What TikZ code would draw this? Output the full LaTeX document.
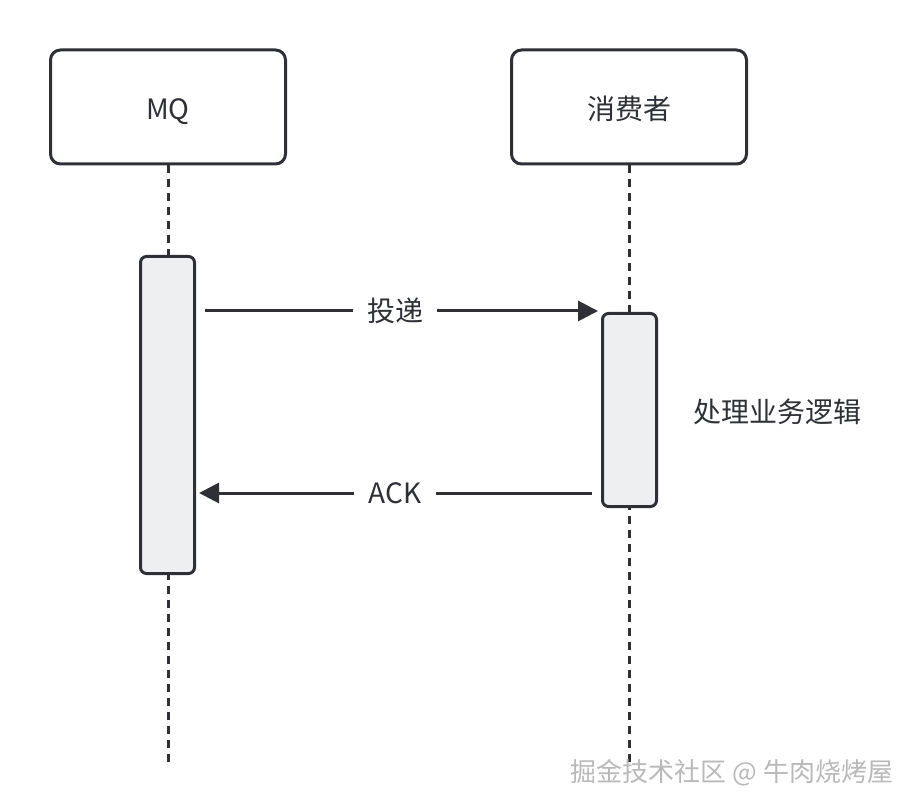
\documentclass[tikz,border=0pt]{standalone}
\usepackage{fontspec}
\setmainfont{Noto Sans CJK SC}
\usetikzlibrary{arrows.meta}
\definecolor{ink}{HTML}{2E3036}
\definecolor{actfill}{HTML}{EEEFF1}

\begin{document}
\begin{tikzpicture}[x=0.5pt,y=-0.5pt,
        head/.style={draw=ink,line width=1.5pt,rounded corners=5pt,minimum width=117.5pt,minimum height=57pt,text height=13pt,text depth=0pt,text=ink,font=\fontsize{14}{16}\selectfont},
        act/.style={draw=ink,fill=actfill,line width=1.5pt,rounded corners=3pt,minimum width=27pt,inner sep=0pt},
        life/.style={draw=ink,line width=1.5pt,dash pattern=on 4pt off 3pt},
        msg/.style={draw=ink,line width=1.5pt,-{Triangle[length=10pt,width=10pt]}},
        lbl/.style={fill=white,text=ink,inner xsep=7pt,inner ysep=2pt,font=\fontsize{14}{16}\selectfont}]
        \useasboundingbox (0,0) rectangle (910,812);

        \node[head] (mq) at (168, 107) {MQ};
        \node[head] (cons) at (629, 107) {消费者};
        \coordinate (mqend) at (168, 762);
        \coordinate (consend) at (629, 762);

        \draw[life] (mq) -- (mqend);
        \draw[life] (cons) -- (consend);

        \node[act,minimum height=158.5pt] (mqa) at (167.5, 415) {};
        \node[act,minimum height=96.5pt] (ca) at (629.5, 410) {};

        \node[lbl] (send) at (395, 311) {投递};
        \node[lbl] (ack) at (395, 493) {ACK};
        \node[text=ink,font=\fontsize{14}{16}\selectfont] (work) at (777, 412) {处理业务逻辑};

        \draw[msg,shorten >=1.5pt] ([xshift=4.5pt]mqa.east |- send) -- (send) -- (ca.west |- send);
        \draw[msg,shorten >=1.5pt] ([xshift=-4.5pt]ca.west |- ack) -- (ack) -- (mqa.east |- ack);

        \node[text=gray!55,font=\fontsize{13}{15}\selectfont] (mark) at (732, 773) {掘金技术社区 @ 牛肉烧烤屋};
    \end{tikzpicture}
\end{document}
